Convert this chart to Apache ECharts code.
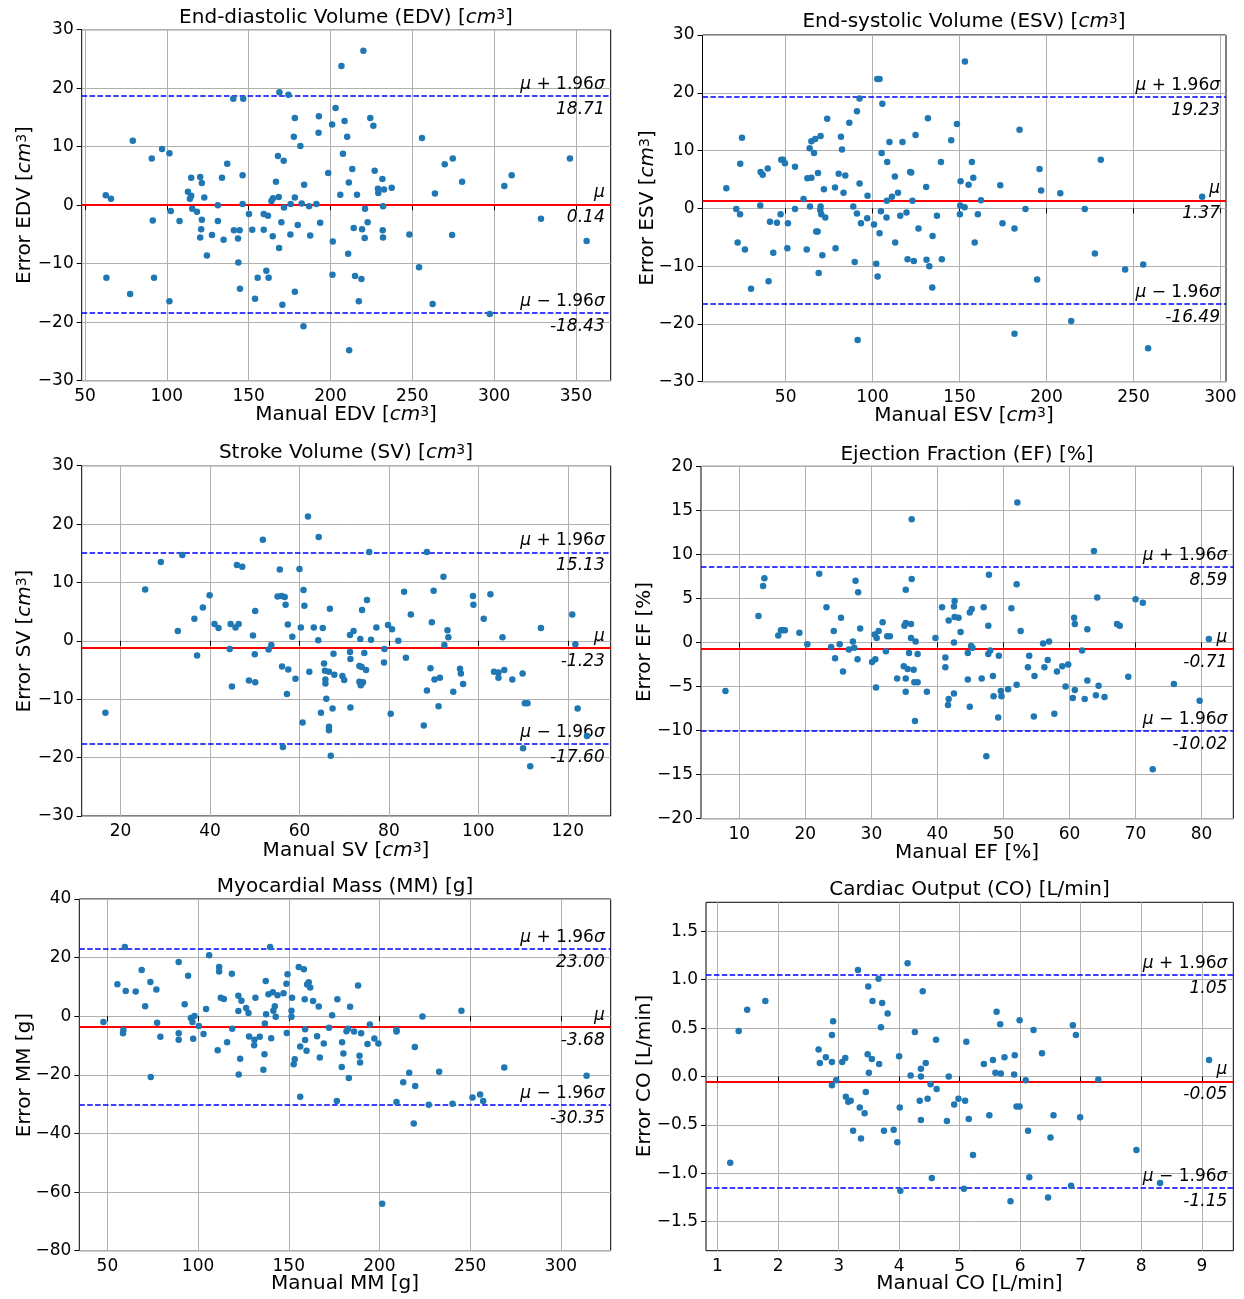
<!DOCTYPE html>
<html><head><meta charset="utf-8">
<script src="https://cdn.jsdelivr.net/npm/echarts@6/dist/echarts.min.js"></script>
<style>html,body{margin:0;padding:0;background:#fff}#c{width:1244px;height:1299px}</style>
</head><body><div id="c"></div>
<script>
// ---------- DATA ----------
const edvPoints = [[62.7,1.7],[65.9,1.1],[79.2,11.0],[63.1,-12.4],[77.6,-15.2],[90.8,8.0],[97.1,9.6],[101.6,8.9],[91.4,-2.6],[92.2,-12.4],[101.6,-16.4],[102.4,-1.0],[107.8,-2.7],[112.9,2.3],[114.9,4.7],[114.9,1.6],[114.1,1.1],[115.5,-0.6],[118.4,-1.1],[120.4,4.8],[121.4,3.8],[122.9,1.3],[121.4,-2.5],[121.0,-4.1],[120.4,-5.5],[124.5,-8.6],[127.6,-5.1],[131.2,0.0],[131.2,-2.7],[133.7,4.7],[136.9,7.1],[134.7,-5.9],[140.6,18.2],[146.7,18.2],[146.3,5.1],[146.3,0.2],[141.0,-4.3],[144.5,-4.3],[143.5,-5.7],[143.7,-9.8],[144.7,-14.3],[150.2,-1.5],[152.2,-4.2],[155.5,-12.4],[153.9,-16.0],[159.2,-1.5],[161.8,-1.8],[159.2,-4.2],[160.8,-11.2],[162.2,-12.4],[164.7,-5.3],[163.9,0.7],[164.9,1.2],[166.7,4.0],[167.9,8.4],[168.8,19.3],[171.4,7.6],[168.4,1.4],[171.6,-0.4],[170.0,-2.9],[168.6,-7.3],[170.6,-17.0],[174.3,18.9],[178.2,14.9],[177.6,11.7],[181.6,10.1],[178.2,1.3],[175.7,0.2],[182.4,0.3],[183.9,3.5],[180.0,-3.4],[175.5,-5.0],[178.2,-14.8],[183.5,-20.7],[186.9,-0.2],[191.4,0.2],[193.7,-3.0],[187.6,-5.2],[192.9,15.2],[192.7,12.4],[198.6,5.5],[201.0,13.8],[203.1,16.6],[206.7,23.8],[208.6,14.4],[210.2,11.7],[207.6,8.8],[206.0,1.8],[211.2,3.9],[201.4,-6.2],[201.2,-11.9],[210.8,-8.3],[211.4,-24.8],[220.1,26.4],[224.3,14.9],[226.2,13.6],[255.9,11.5],[213.3,6.2],[216.2,1.8],[227.0,5.9],[231.7,4.5],[229.0,2.8],[232.7,2.7],[229.2,2.1],[237.4,3.0],[232.1,-0.2],[221.1,-0.6],[222.7,-2.9],[214.2,-3.9],[219.3,-4.1],[220.9,-5.6],[231.9,-4.3],[232.1,-5.5],[248.2,-5.0],[215.0,-12.1],[218.9,-12.6],[217.3,-16.4],[254.1,-10.6],[262.4,-16.9],[263.8,2.0],[269.8,7.0],[274.7,8.0],[280.4,4.0],[274.3,-5.1],[297.3,-18.6],[306.2,3.3],[310.7,5.1],[328.6,-2.3],[346.3,8.0],[356.5,-6.1]];
const edvStats = [0.14, 18.71, -18.43];
const edvXTicks = [50,100,150,200,250,300,350];
const edvYTicks = [-30,-20,-10,0,10,20,30];

const esvPoints = [[15.9,3.5],[21.6,-0.1],[23.8,-1.0],[24.9,12.2],[23.9,7.7],[22.4,-5.9],[26.6,-7.1],[30.1,-13.9],[35.6,6.3],[36.8,5.8],[39.7,6.9],[35.4,0.5],[41.0,-2.3],[45.0,-2.5],[47.1,-1.0],[42.9,-7.7],[40.2,-12.6],[47.5,8.4],[48.5,8.4],[49.6,7.8],[51.3,-2.6],[51.0,-6.9],[55.4,7.2],[55.4,-0.1],[60.3,1.6],[62.5,5.2],[64.8,5.3],[63.8,10.4],[64.8,11.6],[67.0,12.0],[66.3,9.6],[70.1,12.5],[68.6,6.1],[64.0,0.3],[62.1,-7.1],[70.1,0.3],[69.9,-0.3],[70.5,-1.0],[72.8,-1.6],[72.0,3.3],[67.6,-4.0],[68.4,-4.0],[71.1,-8.1],[69.0,-11.2],[73.9,15.5],[78.4,3.6],[78.7,-6.9],[80.5,6.0],[81.8,12.4],[82.4,10.2],[84.3,5.7],[83.3,2.7],[86.6,14.8],[88.9,0.3],[91.0,-0.9],[89.7,-9.3],[91.0,16.8],[92.5,19.0],[92.5,4.3],[93.3,-2.6],[91.4,-22.8],[97.1,2.2],[96.9,-1.7],[100.8,-2.8],[102.1,-9.6],[102.9,-11.8],[102.7,22.4],[104.0,22.4],[105.6,18.1],[105.2,9.6],[104.8,-0.5],[104.0,-4.3],[108.2,1.3],[108.4,8.0],[108.0,-1.6],[109.7,11.5],[111.1,2.0],[112.8,5.5],[114.6,2.7],[113.0,-5.9],[115.9,-1.3],[117.2,11.5],[119.5,-0.7],[120.1,-8.8],[121.6,6.3],[122.2,6.2],[122.9,1.3],[123.7,-9.1],[124.7,12.7],[126.4,-3.5],[130.8,3.7],[131.8,15.6],[131.0,-8.9],[132.6,-10.0],[134.5,-4.8],[134.3,-13.7],[137.0,-1.3],[139.3,8.0],[139.8,-8.8],[145.2,11.8],[148.5,14.6],[150.6,4.7],[150.4,0.5],[152.9,0.2],[150.2,-1.0],[153.1,25.4],[155.2,4.1],[157.1,8.0],[157.9,5.3],[158.7,-5.9],[184.5,13.6],[173.4,4.0],[162.3,1.4],[160.5,-1.0],[174.7,-2.6],[181.6,-3.5],[196.0,6.8],[196.9,3.1],[187.9,-0.1],[194.6,-12.3],[181.6,-21.7],[207.9,2.6],[214.2,-19.5],[222.0,-0.1],[231.2,8.4],[227.8,-7.8],[245.2,-10.6],[255.6,-9.7],[258.4,-24.2],[289.5,2.0]];
const esvStats = [1.37, 19.23, -16.49];
const esvXTicks = [50,100,150,200,250,300];
const esvYTicks = [-30,-20,-10,0,10,20,30];

const svPoints = [[16.6,-12.3],[25.5,8.8],[29.0,13.5],[33.8,14.7],[32.8,1.7],[36.5,3.8],[37.1,-2.5],[38.4,5.7],[39.9,7.8],[41.0,2.9],[41.9,2.2],[44.6,2.9],[45.7,2.3],[46.4,2.9],[44.4,-1.4],[44.9,-7.8],[46.0,13.0],[47.2,12.7],[50.1,5.1],[49.6,0.9],[50.0,-2.3],[48.7,-6.8],[50.1,-7.1],[51.8,17.3],[53.1,-1.5],[53.7,-0.7],[55.6,12.2],[55.1,7.6],[56.0,7.7],[56.7,7.5],[56.9,6.2],[57.4,2.8],[58.4,0.7],[56.1,-4.4],[57.5,-4.9],[57.2,-9.1],[56.3,-18.2],[59.1,-6.5],[60.0,12.3],[61.9,21.3],[64.3,17.8],[60.9,8.7],[61.1,6.0],[60.3,2.3],[63.2,2.3],[65.2,2.2],[64.2,0.1],[62.2,-5.3],[60.7,-14.0],[66.8,5.5],[67.6,-2.2],[65.5,-3.9],[65.7,-5.1],[66.6,-5.3],[65.8,-6.6],[65.8,-7.3],[67.8,-5.8],[66.0,-9.9],[64.8,-12.3],[67.4,-11.6],[66.6,-14.7],[66.6,-15.3],[67.0,-19.7],[69.6,-6.0],[70.0,-6.7],[71.3,1.0],[71.3,-1.9],[71.4,-3.1],[71.4,-11.4],[75.6,15.2],[75.1,7.0],[74.0,5.3],[72.1,1.7],[73.6,0.3],[74.5,-2.1],[74.9,-5.0],[73.4,-4.3],[73.9,-4.5],[73.4,-7.0],[73.9,-7.3],[74.2,-7.1],[73.7,-7.6],[76.0,0.2],[77.2,2.3],[79.0,-1.4],[78.9,-3.7],[79.8,2.7],[80.7,2.0],[82.1,0.0],[83.8,-2.9],[80.4,-12.5],[83.4,8.4],[84.9,4.5],[88.5,15.2],[89.6,3.2],[90.0,8.6],[92.2,11.0],[89.3,-4.7],[90.2,-6.6],[91.4,-6.3],[88.5,-8.5],[91.1,-11.2],[87.8,-14.5],[92.4,-0.7],[93.1,1.8],[93.3,0.6],[95.9,-4.8],[96.1,-5.6],[96.6,-7.4],[94.4,-8.7],[98.8,7.7],[98.9,6.2],[101.2,3.8],[102.7,8.0],[105.4,0.6],[103.5,-5.3],[104.5,-5.4],[104.5,-6.3],[105.8,-5.0],[107.6,-6.6],[109.9,-5.6],[110.4,-10.7],[111.0,-10.7],[110.0,-18.4],[111.6,-21.5],[114.0,2.2],[121.0,4.5],[121.7,-0.6],[122.2,-11.6],[124.3,-16.3]];
const svStats = [-1.23, 15.13, -17.60];
const svXTicks = [20,40,60,80,100,120];
const svYTicks = [-30,-20,-10,0,10,20,30];

const efPoints = [[7.9,-5.5],[12.9,3.0],[13.6,6.4],[13.8,7.3],[15.9,0.8],[16.3,1.4],[16.6,1.4],[16.9,1.4],[19.1,1.1],[20.3,-0.2],[22.1,7.8],[23.2,4.0],[23.9,-0.5],[24.3,1.3],[24.5,-1.8],[25.4,2.8],[25.2,-0.2],[25.7,-3.3],[26.6,-0.8],[27.2,0.1],[27.4,-0.6],[27.6,7.0],[28.0,5.7],[28.3,1.6],[27.9,-1.9],[30.1,-2.2],[30.5,0.9],[30.8,0.5],[31.1,1.3],[31.7,2.3],[30.6,-1.9],[30.7,-5.1],[32.2,-1.0],[32.4,0.7],[32.8,0.7],[33.9,-4.1],[35.2,6.0],[36.1,7.2],[36.1,14.0],[35.2,2.2],[35.0,1.9],[36.0,2.1],[36.0,0.5],[36.7,0.1],[35.7,-1.2],[37.0,-1.3],[34.9,-2.7],[35.5,-3.0],[36.4,-3.1],[35.2,-4.1],[36.5,-4.5],[37.0,-4.5],[35.2,-5.6],[36.6,-8.9],[38.4,-5.6],[39.7,0.5],[40.7,4.0],[41.7,2.5],[42.5,4.1],[42.6,4.7],[42.6,2.9],[43.2,2.8],[43.5,1.2],[42.5,0.0],[41.2,-1.7],[41.2,-2.8],[44.6,-1.2],[44.6,-4.2],[41.7,-6.4],[42.5,-5.8],[41.6,-7.1],[44.9,-7.3],[44.9,3.4],[45.2,3.8],[45.1,-0.4],[45.3,-0.6],[47.8,7.7],[47.0,4.0],[47.7,1.9],[47.7,-1.3],[48.0,-0.9],[49.3,-1.5],[48.4,-3.8],[46.7,-4.1],[48.5,-6.1],[49.6,-5.5],[49.7,-6.1],[49.2,-8.5],[47.4,-12.9],[52.1,15.9],[52.0,6.6],[51.2,3.9],[52.6,1.3],[50.7,-5.3],[52.0,-4.8],[53.9,-1.5],[53.7,-2.8],[54.7,-3.8],[54.6,-8.4],[56.0,-0.1],[56.9,0.1],[56.2,-2.8],[56.7,-2.0],[57.7,-8.1],[58.1,-3.3],[58.9,-2.7],[59.8,-2.5],[59.4,-5.0],[60.5,-6.3],[60.8,-5.4],[60.7,2.8],[60.8,2.1],[61.9,-0.9],[62.3,-6.4],[62.7,1.5],[62.7,-4.3],[64.0,-6.0],[64.4,-4.9],[65.3,-6.2],[63.7,10.4],[64.2,5.1],[67.2,2.1],[67.6,1.9],[68.9,-3.9],[70.0,4.9],[71.1,4.5],[72.6,-14.4],[75.8,-4.7],[79.7,-6.6],[81.1,0.4]];
const efStats = [-0.71, 8.59, -10.02];
const efXTicks = [10,20,30,40,50,60,70,80];
const efYTicks = [-20,-15,-10,-5,0,5,10,15,20];

const mmPoints = [[47.8,-2.0],[55.5,10.9],[59.6,23.6],[60.1,8.6],[65.6,8.4],[58.8,-4.7],[58.6,-5.8],[68.9,15.8],[70.8,3.4],[73.7,11.7],[77.0,9.1],[77.4,-2.2],[79.2,-7.0],[73.9,-20.7],[89.3,18.5],[94.5,13.8],[92.6,4.1],[89.3,-5.8],[89.3,-8.0],[96.0,-0.6],[96.9,-2.0],[98.0,0.1],[97.3,-7.7],[100.4,-3.3],[103.0,-6.1],[104.4,2.5],[106.1,20.8],[111.6,16.8],[111.6,15.3],[112.5,6.3],[114.2,5.9],[110.8,-11.6],[116.0,-8.9],[118.6,14.5],[118.8,-4.3],[122.2,7.0],[123.9,5.3],[122.2,1.8],[126.5,2.8],[127.8,1.1],[123.2,-14.5],[122.4,-19.9],[128.1,-6.9],[131.1,-8.0],[130.9,-9.9],[134.0,-7.0],[131.6,6.3],[137.3,12.0],[138.8,7.5],[141.2,8.2],[143.8,7.2],[142.3,3.4],[141.5,1.9],[142.8,-0.2],[137.5,0.7],[136.8,-2.5],[140.3,-7.5],[136.6,-13.0],[136.0,-18.3],[139.7,23.6],[147.1,7.8],[148.7,11.1],[149.3,14.3],[148.9,-5.7],[151.8,6.3],[151.5,1.9],[151.5,-0.2],[155.5,16.8],[158.3,16.0],[158.8,5.8],[160.1,10.8],[161.0,11.6],[161.8,9.8],[163.4,5.2],[166.5,3.3],[159.0,-4.4],[159.0,-8.1],[156.3,-10.3],[159.8,-11.8],[153.3,-14.7],[152.7,-16.4],[156.3,-27.5],[165.6,-6.8],[169.3,-9.3],[167.1,-14.1],[172.2,-3.9],[173.9,0.3],[176.8,5.8],[179.4,-8.9],[180.1,-12.7],[179.2,-17.3],[176.5,-28.9],[183.1,-21.1],[181.8,-5.1],[183.8,3.2],[182.7,-4.3],[188.2,10.5],[186.0,-5.2],[189.9,-5.8],[194.7,-2.8],[193.4,-9.5],[197.2,-7.6],[199.4,-9.3],[189.0,-13.5],[189.3,-15.8],[209.4,-4.7],[209.4,-5.2],[219.5,-10.5],[223.7,-0.1],[216.4,-19.3],[213.1,-22.5],[219.7,-23.8],[209.4,-29.3],[218.9,-36.6],[201.5,-64.0],[227.2,-30.2],[232.9,-18.9],[240.3,-29.9],[245.2,1.9],[251.3,-27.7],[255.5,-26.7],[257.2,-28.9],[268.8,-17.5],[314.2,-20.3]];
const mmStats = [-3.68, 23.00, -30.35];
const mmXTicks = [50,100,150,200,250,300];
const mmYTicks = [-80,-60,-40,-20,0,20,40];

const coPoints = [[1.21,-0.89],[1.35,0.47],[1.49,0.69],[1.79,0.78],[2.67,0.28],[2.69,0.14],[2.79,0.20],[2.89,0.15],[2.89,0.43],[2.91,0.57],[2.89,-0.09],[2.96,-0.04],[3.06,0.15],[3.11,0.19],[3.12,-0.21],[3.16,-0.26],[3.20,-0.25],[3.35,-0.32],[3.43,-0.38],[3.24,-0.56],[3.37,-0.64],[3.32,1.10],[3.49,0.93],[3.56,0.78],[3.66,1.01],[3.72,0.76],[3.81,0.65],[3.70,0.51],[3.48,0.23],[3.55,0.18],[3.67,0.13],[3.50,0.04],[3.45,-0.16],[3.75,-0.56],[3.91,-0.55],[3.97,-0.68],[4.00,0.21],[4.01,-0.32],[4.02,-1.18],[4.14,1.17],[4.39,0.88],[4.26,0.46],[4.61,0.38],[4.44,0.14],[4.36,0.08],[4.19,0.01],[4.36,0.00],[4.52,-0.08],[4.62,-0.13],[4.34,-0.25],[4.47,-0.23],[4.36,-0.45],[4.54,-1.05],[4.82,0.00],[4.79,-0.46],[4.91,-0.29],[4.98,-0.23],[5.09,-0.25],[5.11,0.36],[5.15,-0.44],[5.07,-1.16],[5.22,-0.81],[5.40,0.13],[5.55,0.17],[5.59,0.04],[5.68,0.03],[5.61,0.67],[5.67,0.54],[5.74,0.20],[5.91,0.22],[5.90,0.02],[5.99,0.58],[6.09,-0.04],[5.49,-0.40],[5.94,-0.31],[5.99,-0.31],[6.13,-0.56],[6.15,-1.04],[5.84,-1.29],[6.22,0.48],[6.36,0.24],[6.55,-0.40],[6.50,-0.63],[6.46,-1.25],[6.87,0.53],[6.92,0.43],[6.99,-0.42],[6.84,-1.13],[7.29,-0.03],[7.92,-0.76],[8.31,-1.10],[9.12,0.17]];
const coStats = [-0.05, 1.05, -1.15];
const coXTicks = [1,2,3,4,5,6,7,8,9];
const coYTicks = [-1.5,-1.0,-0.5,0.0,0.5,1.0,1.5];

// ---------- LAYOUT / STYLE ----------
const FONT = 'DejaVu Sans';
const CM3 = '{i|cm}{s|3}';
const panels = [
  {title:'End-diastolic Volume (EDV) [' + CM3 + ']', xName:'Manual EDV [' + CM3 + ']', yName:'Error EDV [' + CM3 + ']',
   pts: edvPoints, stats: edvStats, xt: edvXTicks, yt: edvYTicks, xr:[48.0,371.2], yr:[-30,30],
   rect:[81.7,29.7,610.7,380.7], tp:[346,18], xp:[346,415], yp:[25,205], dec:0},
  {title:'End-systolic Volume (ESV) [' + CM3 + ']', xName:'Manual ESV [' + CM3 + ']', yName:'Error ESV [' + CM3 + ']',
   pts: esvPoints, stats: esvStats, xt: esvXTicks, yt: esvYTicks, xr:[2.2,303.2], yr:[-30,30],
   rect:[702.5,35,1226,381.7], tp:[964,22], xp:[964,416], yp:[648,208], dec:0},
  {title:'Stroke Volume (SV) [' + CM3 + ']', xName:'Manual SV [' + CM3 + ']', yName:'Error SV [' + CM3 + ']',
   pts: svPoints, stats: svStats, xt: svXTicks, yt: svYTicks, xr:[11.3,129.6], yr:[-30,30],
   rect:[81.7,465.7,610.7,816], tp:[346,453], xp:[346,851], yp:[25,641], dec:0},
  {title:'Ejection Fraction (EF) [%]', xName:'Manual EF [%]', yName:'Error EF [%]',
   pts: efPoints, stats: efStats, xt: efXTicks, yt: efYTicks, xr:[4.2,84.8], yr:[-20,20],
   rect:[701,466.3,1233.3,818.7], tp:[967,455], xp:[967,853], yp:[645,642], dec:0},
  {title:'Myocardial Mass (MM) [g]', xName:'Manual MM [g]', yName:'Error MM [g]',
   pts: mmPoints, stats: mmStats, xt: mmXTicks, yt: mmYTicks, xr:[34.5,327.5], yr:[-80,40],
   rect:[79.3,899,610.7,1250.7], tp:[345,887], xp:[345,1284], yp:[25,1075], dec:0},
  {title:'Cardiac Output (CO) [L/min]', xName:'Manual CO [L/min]', yName:'Error CO [L/min]',
   pts: coPoints, stats: coStats, xt: coXTicks, yt: coYTicks, xr:[0.81,9.52], yr:[-1.8,1.8],
   rect:[706,902.3,1233.3,1250.7], tp:[969.5,890], xp:[969.5,1284], yp:[645,1076], dec:1}
];

const richTxt = (size) => ({
  i: {fontStyle:'italic', fontSize:size, fontFamily:FONT, fill:'#000', color:'#000'},
  s: {fontSize:Math.round(size*0.7), lineHeight:10, fontFamily:FONT, verticalAlign:'top', fill:'#000', color:'#000'}
});
const fmtTick = (dec) => (v) => (dec ? Number(v).toFixed(dec) : String(Math.round(v))).replace('-', '\u2212');

const grids = [], xAxes = [], yAxes = [], series = [], graphics = [];
panels.forEach((p, k) => {
  const [l, t, r, b] = p.rect;
  grids.push({left:l, top:t, width:r-l, height:b-t, show:true, borderColor:'#000', borderWidth:1, backgroundColor:'transparent', containLabel:false});
  const tickLine = {show:true, inside:false, length:5, lineStyle:{color:'#000', width:1}};
  xAxes.push({type:'value', gridIndex:k, min:p.xr[0], max:p.xr[1],
    axisLine:{show:false}, axisTick:Object.assign({customValues:p.xt}, tickLine),
    axisLabel:{customValues:p.xt, formatter:fmtTick(0), fontFamily:FONT, fontSize:17, color:'#000', margin:7},
    splitLine:{show:true, lineStyle:{color:'#b0b0b0', width:1}}});
  yAxes.push({type:'value', gridIndex:k, min:p.yr[0], max:p.yr[1],
    axisLine:{show:false}, axisTick:Object.assign({customValues:p.yt}, tickLine),
    axisLabel:{customValues:p.yt, formatter:fmtTick(p.dec), fontFamily:FONT, fontSize:17, color:'#000', margin:8},
    splitLine:{show:true, lineStyle:{color:'#b0b0b0', width:1}}});
  const [mu, up, lo] = p.stats;
  const lblBase = {show:true, color:'#000', fontFamily:FONT, fontSize:17, distance:[6,3],
    rich:{g:{fontStyle:'italic', fontFamily:FONT, fontSize:17, color:'#000'}}};
  const lblBelow = Object.assign({}, lblBase, {distance:[6,5]});
  const hidden = {color:'rgba(0,0,0,0)', width:0.01, type:'solid'};
  const dash = {color:'#0000ff', width:1.5, type:[5.5,2.4]};
  const red = {color:'#ff0000', width:2, type:'solid'};
  series.push({type:'scatter', xAxisIndex:k, yAxisIndex:k, data:p.pts, symbol:'circle', symbolSize:6.5,
    itemStyle:{color:'#1f77b4', opacity:1}, z:3, silent:true,
    markLine:{silent:true, symbol:['none','none'], z:2, animation:false,
      data:[
        {yAxis:up, lineStyle:dash, label:Object.assign({}, lblBase, {position:'insideEndTop', formatter:()=>'{g|\u03bc} + 1.96{g|\u03c3}'})},
        {yAxis:up, lineStyle:hidden, label:Object.assign({}, lblBelow, {position:'insideEndBottom', fontStyle:'italic', formatter:()=>up.toFixed(2)})},
        {yAxis:mu, lineStyle:red, label:Object.assign({}, lblBase, {position:'insideEndTop', formatter:()=>'{g|\u03bc}'})},
        {yAxis:mu, lineStyle:hidden, label:Object.assign({}, lblBelow, {position:'insideEndBottom', fontStyle:'italic', formatter:()=>mu.toFixed(2)})},
        {yAxis:lo, lineStyle:dash, label:Object.assign({}, lblBase, {position:'insideEndTop', formatter:()=>'{g|\u03bc} \u2212 1.96{g|\u03c3}'})},
        {yAxis:lo, lineStyle:hidden, label:Object.assign({}, lblBelow, {position:'insideEndBottom', fontStyle:'italic', formatter:()=>lo.toFixed(2)})}
      ]}});
  graphics.push({type:'text', x:p.tp[0], y:p.tp[1], silent:true,
    style:{text:p.title, align:'center', verticalAlign:'middle', fontFamily:FONT, fontSize:20, fill:'#000', rich:richTxt(20)}});
  graphics.push({type:'text', x:p.xp[0], y:p.xp[1], silent:true,
    style:{text:p.xName, align:'center', verticalAlign:'middle', fontFamily:FONT, fontSize:20, fill:'#000', rich:richTxt(20)}});
  graphics.push({type:'text', x:p.yp[0], y:p.yp[1], rotation:Math.PI/2, silent:true,
    style:{text:p.yName, align:'center', verticalAlign:'middle', fontFamily:FONT, fontSize:20, fill:'#000', rich:richTxt(20)}});
});

const chart = echarts.init(document.getElementById('c'), null, {renderer:'canvas'});
chart.setOption({animation:false, backgroundColor:'#fff', grid:grids, xAxis:xAxes, yAxis:yAxes, series:series, graphic:graphics});
</script></body></html>
